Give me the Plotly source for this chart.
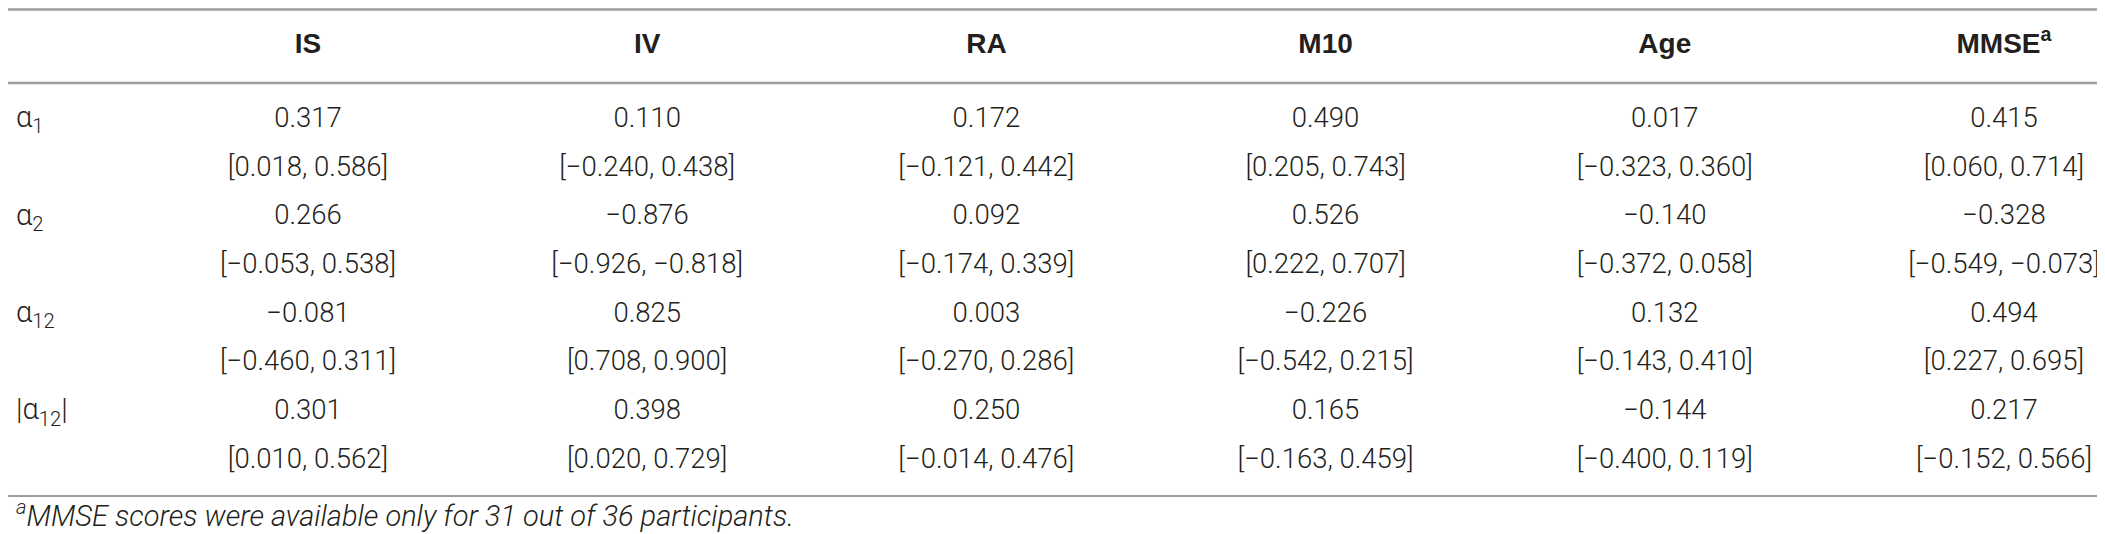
import plotly.graph_objects as go

# Table content
columns = ["IS", "IV", "RA", "M10", "Age", "MMSE<sup>a</sup>"]
params = ["α<sub>1</sub>", "α<sub>2</sub>", "α<sub>12</sub>", "|α<sub>12</sub>|"]

alpha1_est = [0.317, 0.110, 0.172, 0.490, 0.017, 0.415]
alpha1_lo = [0.018, -0.240, -0.121, 0.205, -0.323, 0.060]
alpha1_hi = [0.586, 0.438, 0.442, 0.743, 0.360, 0.714]

alpha2_est = [0.266, -0.876, 0.092, 0.526, -0.140, -0.328]
alpha2_lo = [-0.053, -0.926, -0.174, 0.222, -0.372, -0.549]
alpha2_hi = [0.538, -0.818, 0.339, 0.707, 0.058, -0.073]

alpha12_est = [-0.081, 0.825, 0.003, -0.226, 0.132, 0.494]
alpha12_lo = [-0.460, 0.708, -0.270, -0.542, -0.143, 0.227]
alpha12_hi = [0.311, 0.900, 0.286, 0.215, 0.410, 0.695]

abs12_est = [0.301, 0.398, 0.250, 0.165, -0.144, 0.217]
abs12_lo = [0.010, 0.020, -0.014, -0.163, -0.400, -0.152]
abs12_hi = [0.562, 0.729, 0.476, 0.459, 0.119, 0.566]

footnote = "<sup>a</sup>MMSE scores were available only for 31 out of 36 participants."

rows = [
    (alpha1_est, alpha1_lo, alpha1_hi),
    (alpha2_est, alpha2_lo, alpha2_hi),
    (alpha12_est, alpha12_lo, alpha12_hi),
    (abs12_est, abs12_lo, abs12_hi),
]


def fmt(v):
    return f"{v:.3f}".replace("-", "\u2212")


W, H = 2105, 534
TXT = "#231f20"
RULE = "#9d9d9d"
BODY = dict(family="Roboto", size=27.5, color=TXT, weight=300)

# axis mapping: column i sits at x=i, text line k sits at y=k
col_x = list(range(1, len(columns) + 1))
x0_px, dx_px = 300, 339.2
y0_px, dy_px = 112, 48.7


def px_to_x(p):
    return 1 + (p - x0_px) / dx_px


def px_to_y(p):
    return (p - y0_px) / dy_px


fig = go.Figure()

# header
fig.add_trace(go.Scatter(
    x=col_x, y=[px_to_y(38)] * len(columns), mode="text", text=columns,
    textposition="middle center",
    textfont=dict(family="Liberation Sans", size=28, color=TXT, weight="bold"),
    hoverinfo="skip", showlegend=False,
))

# body: estimate line then CI line for every parameter
for r, (est, lo, hi) in enumerate(rows):
    fig.add_trace(go.Scatter(
        x=col_x, y=[2 * r] * len(col_x), mode="text",
        text=[fmt(v) for v in est], textposition="middle center",
        textfont=BODY, hoverinfo="skip", showlegend=False,
    ))
    fig.add_trace(go.Scatter(
        x=col_x, y=[2 * r + 1] * len(col_x), mode="text",
        text=[f"[{fmt(a)}, {fmt(b)}]" for a, b in zip(lo, hi)],
        textposition="middle center",
        textfont=BODY, hoverinfo="skip", showlegend=False,
    ))

# row labels
fig.add_trace(go.Scatter(
    x=[px_to_x(8)] * len(params), y=[2 * r for r in range(len(params))],
    mode="text", text=params, textposition="middle right",
    textfont=dict(family="Roboto", size=29, color=TXT, weight=300),
    hoverinfo="skip", showlegend=False,
))

# footnote
fig.add_trace(go.Scatter(
    x=[px_to_x(8)], y=[px_to_y(511)], mode="text", text=[footnote],
    textposition="middle right",
    textfont=dict(family="Roboto", size=29, color=TXT, weight=300, style="italic"),
    hoverinfo="skip", showlegend=False,
))

# horizontal rules
for p, w in [(1.5, 2.5), (75, 2.5), (488, 2)]:
    fig.add_shape(type="line", xref="paper", x0=0, x1=1,
                  y0=px_to_y(p), y1=px_to_y(p),
                  line=dict(color=RULE, width=w))

fig.update_layout(
    width=W, height=H,
    margin=dict(l=0, r=0, t=0, b=0),
    paper_bgcolor="white", plot_bgcolor="white",
    xaxis=dict(range=[px_to_x(0), px_to_x(W)], visible=False, fixedrange=True),
    yaxis=dict(range=[px_to_y(H), px_to_y(0)], visible=False, fixedrange=True),
)

fig.write_html("out.html")
